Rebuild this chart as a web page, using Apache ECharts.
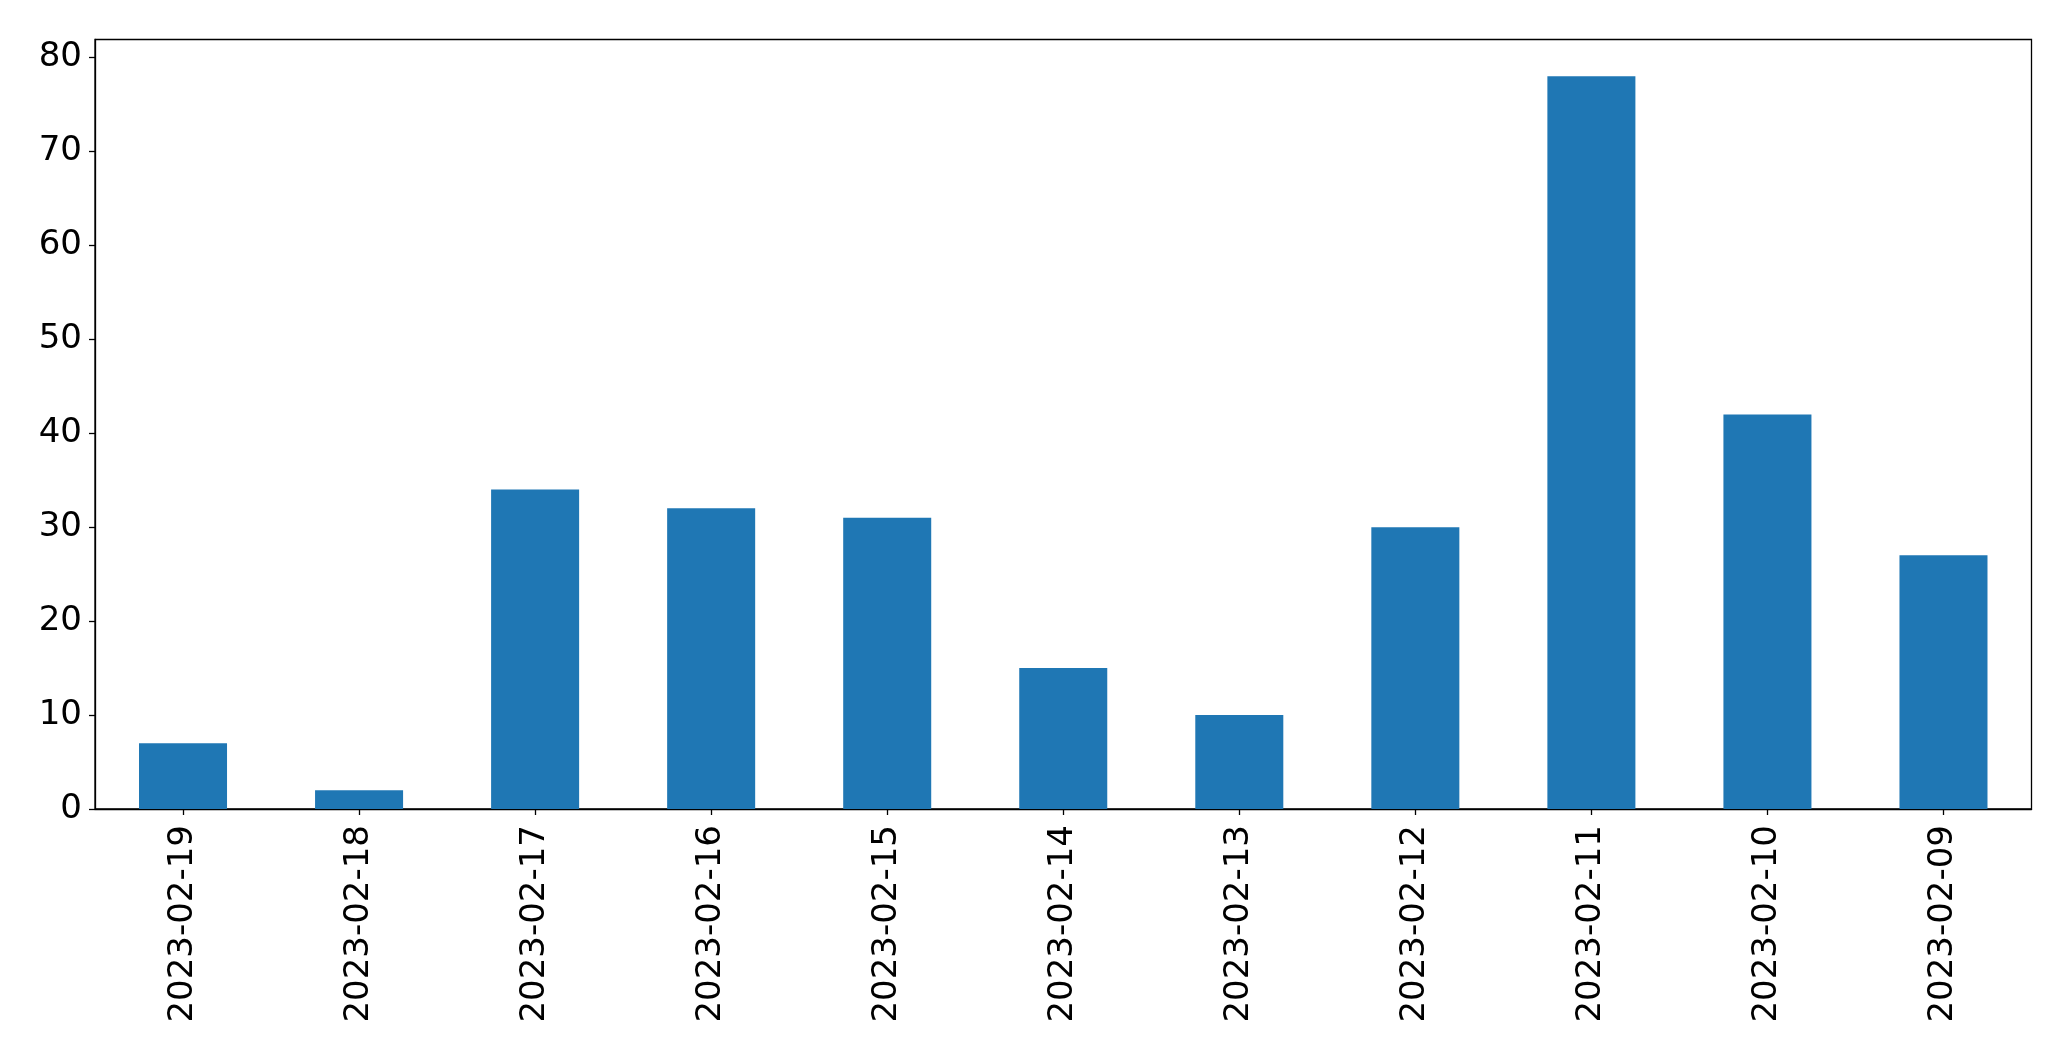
<!DOCTYPE html>
<html>
<head>
<meta charset="utf-8">
<script src="https://cdn.jsdelivr.net/npm/echarts@6/dist/echarts.min.js"></script>
<style>html,body{margin:0;padding:0;background:#fff;}#c{width:2071px;height:1061px;}</style>
</head>
<body>
<div id="c"></div>
<script>
const categories = ['2023-02-19','2023-02-18','2023-02-17','2023-02-16','2023-02-15','2023-02-14','2023-02-13','2023-02-12','2023-02-11','2023-02-10','2023-02-09'];
const values = [7, 2, 34, 32, 31, 15, 10, 30, 78, 42, 27];
const yTicks = [0, 10, 20, 30, 40, 50, 60, 70, 80];

const chart = echarts.init(document.getElementById('c'), null, {renderer: 'canvas'});
const font = 'DejaVu Sans';
chart.setOption({
  animation: false,
  backgroundColor: '#ffffff',
  grid: {left: 95, right: 39.5, top: 39.5, bottom: 252, show: true, borderColor: '#000', borderWidth: 1.3, backgroundColor: 'transparent'},
  xAxis: {
    type: 'category',
    data: categories,
    axisLine: {show: true, lineStyle: {color: '#000', width: 1.3}},
    axisTick: {show: true, alignWithLabel: true, length: 6, lineStyle: {color: '#000', width: 1.3}},
    axisLabel: {rotate: 90, margin: 16, fontFamily: font, fontSize: 34, color: '#000', interval: 0},
    splitLine: {show: false}
  },
  yAxis: {
    type: 'value',
    min: 0,
    max: 81.9,
    interval: 10,
    axisLine: {show: true, lineStyle: {color: '#000', width: 1.3}},
    axisTick: {show: true, length: 6, lineStyle: {color: '#000', width: 1.3}},
    axisLabel: {margin: 13, fontFamily: font, fontSize: 34, color: '#000',
      formatter: v => yTicks.includes(v) ? String(v) : '', showMaxLabel: false},
    splitLine: {show: false}
  },
  series: [{
    type: 'bar',
    data: values,
    barWidth: '50%',
    itemStyle: {color: '#1f77b4'}
  }]
});
</script>
</body>
</html>
